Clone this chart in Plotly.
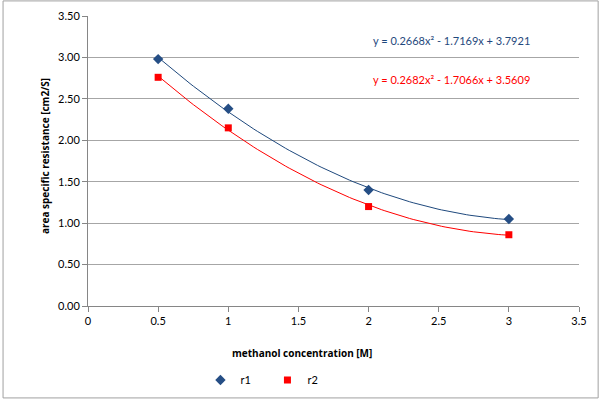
import numpy as np
import plotly.graph_objects as go

conc = [0.5, 1, 2, 3]
r1 = [2.98, 2.38, 1.40, 1.05]
r2 = [2.76, 2.15, 1.20, 0.86]
xticks = [0, 0.5, 1, 1.5, 2, 2.5, 3, 3.5]
xticklabels = ["0", "0.5", "1", "1.5", "2", "2.5", "3", "3.5"]
eq1 = "y = 0.2668x² - 1.7169x + 3.7921"
eq2 = "y = 0.2682x² - 1.7066x + 3.5609"
xtitle = "<b>methanol concentration [M]</b>"
ytitle = "<b>area specific resistance [cm2/S]</b>"

blue = "#1F497D"
red = "#FF0000"
font = "Lato"
bold_font = "Open Sans"

fig = go.Figure()
xs = np.linspace(min(conc), max(conc), 100)
for ys, col in [(r1, blue), (r2, red)]:
    p = np.polyfit(conc, ys, 2)
    fig.add_trace(go.Scatter(x=xs, y=np.polyval(p, xs), mode="lines",
                             line=dict(color=col, width=1), showlegend=False, hoverinfo="skip"))
fig.add_trace(go.Scatter(x=conc, y=r1, mode="markers", name="r1",
                         marker=dict(symbol="diamond", color="#254E85", size=8)))
fig.add_trace(go.Scatter(x=conc, y=r2, mode="markers", name="r2",
                         marker=dict(symbol="square", color=red, size=7)))

fig.add_annotation(x=2.59, y=3.20, text=eq1, showarrow=False, font=dict(color=blue, size=11, family=font), xref="x", yref="y")
fig.add_annotation(x=2.59, y=2.73, text=eq2, showarrow=False, font=dict(color=red, size=11, family=font), xref="x", yref="y")
fig.add_annotation(x=0.436, y=-0.162, xref="paper", yref="paper", text=xtitle, showarrow=False,
                   xanchor="center", yanchor="middle", font=dict(size=10, family=bold_font))
fig.add_annotation(x=-0.0876, y=0.517, xref="paper", yref="paper", text=ytitle, showarrow=False,
                   textangle=-90, xanchor="center", yanchor="middle", font=dict(size=10, family=bold_font))

fig.update_layout(
    width=601, height=401, paper_bgcolor="white", plot_bgcolor="white",
    margin=dict(l=88, r=22, t=16, b=95),
    font=dict(family=font, size=11, color="#000000"),
    xaxis=dict(range=[0, 3.5], tickvals=xticks, ticktext=xticklabels, showgrid=False, showline=True,
               linecolor="#868686", linewidth=1, ticks="outside", ticklen=5, tickcolor="#868686",
               zeroline=False, automargin=False),
    yaxis=dict(range=[0, 3.5], dtick=0.5, tickformat=".2f", showgrid=True, gridcolor="#A6A6A6",
               showline=True, linecolor="#868686", linewidth=1, ticks="outside", ticklen=5,
               tickcolor="#868686", zeroline=False, automargin=False),
    legend=dict(orientation="h", x=0.445, xanchor="center", xref="container", y=1 - 380 / 401,
                yanchor="middle", yref="container",
                font=dict(size=11), itemwidth=30, entrywidth=22, entrywidthmode="pixels", tracegroupgap=0),
    showlegend=True,
    shapes=[dict(type="rect", xref="paper", yref="paper", x0=-0.173, x1=1.039, y0=-0.317, y1=1.052,
                 line=dict(color="#A0A0A0", width=1))],
)
fig.write_html("out.html")
